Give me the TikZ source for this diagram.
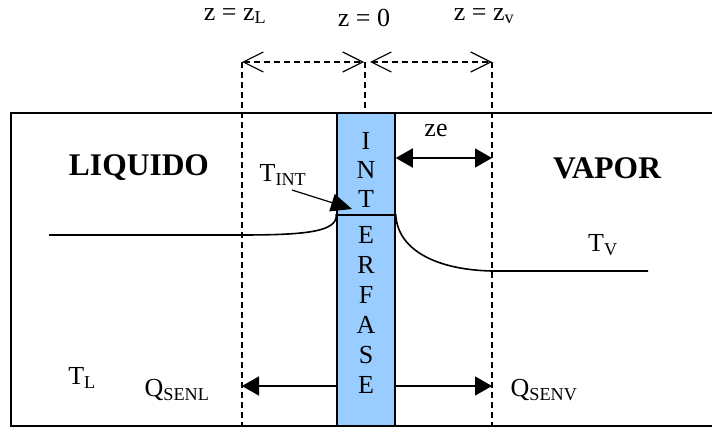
\documentclass[tikz,border=0pt]{standalone}
\usepackage{fontspec}
\setmainfont{Liberation Serif}
\usetikzlibrary{arrows.meta,positioning}
\definecolor{ifblue}{HTML}{99CCFF}
\tikzset{
  lbl/.style     = {inner sep=0pt, font=\fontsize{26}{30}\selectfont},
  phase/.style   = {inner sep=0pt, font=\fontsize{31.5}{36}\selectfont\bfseries},
  guide/.style   = {dash pattern=on 6pt off 4pt, line width=1.2pt},
  span/.style    = {guide, {Straight Barb[length=20pt,width=20pt,line width=1.2pt]}-{Straight Barb[length=20pt,width=20pt,line width=1.2pt]}},
  flux/.style    = {-{Triangle[length=17pt,width=19pt]}, line width=1.6pt},
  profile/.style = {line width=1.6pt},
}

\begin{document}
\begin{tikzpicture}[x=1pt, y=-1pt]
\useasboundingbox (0,0) rectangle (712,428);
% the cell
\draw[line width=1.5pt] (11,113) rectangle (716,426);
\node[draw, fill=ifblue, line width=1.5pt, inner sep=0pt,
      minimum width=58pt, minimum height=313pt] (bar) at (366,269.5) {};
\foreach \c/\y in {I/141,N/170,T/199,E/235,R/265,F/295,A/325,S/355,E/385}
  \node[lbl] (if\y) at (366,\y) {\c};
% positions
\coordinate (zLtop) at (242,62);
\coordinate (zLbot) at (242,426);
\coordinate (z0top) at (365,62);
\coordinate (zVtop) at (492,62);
\coordinate (zVbot) at (492,426);
\draw[guide] (zLtop) -- (zLbot);
\draw[guide] (zVtop) -- (zVbot);
\draw[guide] (z0top) -- (z0top |- bar.north);
\draw[span] (zLtop) -- ([xshift=-1pt]z0top);
\draw[span] ([xshift=5pt]z0top) -- (zVtop);
\node[lbl] (lzL) at (235,16) {z = z\textsubscript{L}};
\node[lbl] (lz0) at (364,18) {z = 0};
\node[lbl] (lzV) at (484,16) {z = z\textsubscript{v}};
% phases
\node[phase] (liq) at (139,168) {LIQUIDO};
\node[phase] (vap) at (607,168) {VAPOR};
% temperature profile
\coordinate (tL0) at (49,235);
\coordinate (tL1) at (240,235);
\coordinate (ti0) at (bar.west |- 0,215);
\coordinate (ti1) at (bar.east |- 0,215);
\coordinate (tV0) at (492,271);
\coordinate (tV1) at (648,271);
\draw[profile] (tL0) -- (tL1) .. controls (305,235) and (337,232) .. (ti0)
  -- (ti1) .. controls (398,252) and (440,270) .. (tV0) -- (tV1);
\node[lbl] (Tint) at (283,175) {T\textsubscript{INT}};
\coordinate (tarr) at (292,190);
\coordinate (ttip) at (352,209);
\draw[-{Triangle[length=21pt,width=18pt]}, line width=1.2pt] (tarr) -- (ttip);
\node[lbl] (TV) at (603,245) {T\textsubscript{V}};
\node[lbl] (TL) at (82,378) {T\textsubscript{L}};
% film thickness and fluxes
\node[lbl] (ze) at (436,131) {ze};
\draw[flux, {Triangle[length=17pt,width=19pt]}-{Triangle[length=17pt,width=19pt]}]
  (bar.east |- 0,158) -- (zVtop |- 0,158);
\draw[flux] (bar.west |- 0,386) -- (zLbot |- 0,386);
\draw[flux] (bar.east |- 0,386) -- (zVbot |- 0,386);
\node[lbl] (QL) at (177,390) {Q\textsubscript{SENL}};
\node[lbl] (QV) at (544,390) {Q\textsubscript{SENV}};
\end{tikzpicture}
\end{document}
